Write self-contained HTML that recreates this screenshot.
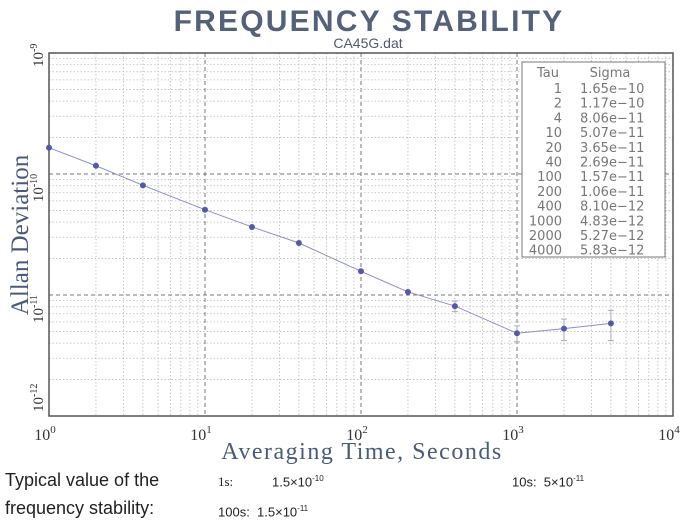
<!DOCTYPE html>
<html><head><meta charset="utf-8"><style>
body{margin:0;background:#fff;width:690px;height:529px;overflow:hidden;position:relative}
.t{position:absolute;font-family:"Liberation Sans",sans-serif;color:#222}
</style></head><body>
<svg id="s" width="690" height="529" style="position:absolute;left:0;top:0" xmlns="http://www.w3.org/2000/svg"></svg>
<div class="t" style="left:5px;top:470px;font-size:18px">Typical value of the</div>
<div class="t" style="left:5px;top:498px;font-size:18px">frequency stability:</div>
<div class="t" style="left:218px;top:474px;font-size:13px;font-family:'Liberation Serif',serif">1s:</div>
<div class="t" style="left:272px;top:474px;font-size:13px">1.5×10<sup style="font-size:8px">-10</sup></div>
<div class="t" style="left:512px;top:474px;font-size:13px">10s:&nbsp; 5×10<sup style="font-size:8px">-11</sup></div>
<div class="t" style="left:218px;top:504px;font-size:13px">100s:&nbsp; 1.5×10<sup style="font-size:8px">-11</sup></div>
<script>
var L=49,T=53,DX=156,DY=121,R=L+4*DX,B=T+3*DY,h='';
function X(t){return L+DX*Math.log10(t)}
function Y(s){return T+DY*(-9-Math.log10(s))}
for(var d=0;d<4;d++)for(var k=1;k<10;k++){var x=L+DX*(d+Math.log10(k));if(k==1&&d==0)continue;
h+='<line x1="'+x+'" y1="'+T+'" x2="'+x+'" y2="'+B+'" stroke="'+(k==1?'#777':'#bbb')+'" stroke-width="'+(k==1?1:0.8)+'" stroke-dasharray="'+(k==1?'4,3':'1.5,2')+'"/>';}
for(var d=0;d<3;d++)for(var k=1;k<10;k++){var y=T+DY*(d+1-Math.log10(k));if(k==1&&d==2)continue;
h+='<line x1="'+L+'" y1="'+y+'" x2="'+R+'" y2="'+y+'" stroke="'+(k==1?'#777':'#bbb')+'" stroke-width="'+(k==1?1:0.8)+'" stroke-dasharray="'+(k==1?'4,3':'1.5,2')+'"/>';}
h+='<rect x="'+L+'" y="'+T+'" width="'+(R-L)+'" height="'+(B-T)+'" fill="none" stroke="#555" stroke-width="1.5"/>';
var d=[[1,1.65e-10],[2,1.17e-10],[4,8.06e-11],[10,5.07e-11],[20,3.65e-11],[40,2.69e-11],[100,1.57e-11],[200,1.06e-11],[400,8.10e-12],[1000,4.83e-12],[2000,5.27e-12],[4000,5.83e-12]];
var eb={400:[0.1],1000:[0.15],2000:[0.2],4000:[0.28]};
var pts=d.map(function(p){return X(p[0])+','+Y(p[1])}).join(' ');
h+='<polyline points="'+pts+'" fill="none" stroke="#8a8fc8" stroke-width="1"/>';
d.forEach(function(p){var x=X(p[0]),y=Y(p[1]);
if(eb[p[0]]){var e=eb[p[0]][0];var y1=Y(p[1]*(1+e)),y2=Y(p[1]*(1-e));
h+='<line x1="'+x+'" y1="'+y1+'" x2="'+x+'" y2="'+y2+'" stroke="#aab" stroke-width="1"/><line x1="'+(x-3)+'" y1="'+y1+'" x2="'+(x+3)+'" y2="'+y1+'" stroke="#aab"/><line x1="'+(x-3)+'" y1="'+y2+'" x2="'+(x+3)+'" y2="'+y2+'" stroke="#aab"/>';}
h+='<circle cx="'+x+'" cy="'+y+'" r="3" fill="#5558a8"/>';});
h+='<rect x="522" y="62" width="143" height="195" fill="#fff" stroke="#777" stroke-width="1"/>';
h+='<text x="548" y="77" font-family="DejaVu Sans,sans-serif" font-size="13" fill="#777" text-anchor="middle">Tau</text><text x="610" y="77" font-family="DejaVu Sans,sans-serif" font-size="13" fill="#777" text-anchor="middle">Sigma</text>';
d.forEach(function(p,i){var y=93+i*14.7;var s=p[1].toExponential(2).replace('e-','e\u2212');
h+='<text x="562" y="'+y+'" font-family="DejaVu Sans,sans-serif" font-size="13" fill="#777" text-anchor="end">'+p[0]+'</text><text x="580" y="'+y+'" font-family="DejaVu Sans,sans-serif" font-size="13" fill="#777">'+s+'</text>';});
h+='<text x="369" y="31" text-anchor="middle" font-family="Liberation Sans,sans-serif" font-size="30" font-weight="bold" fill="#55607a" letter-spacing="2.2">FREQUENCY STABILITY</text>';
h+='<text x="368" y="48" text-anchor="middle" font-family="Liberation Sans,sans-serif" font-size="14" fill="#4f5a6e">CA45G.dat</text>';
h+='<text transform="translate(28,235) rotate(-90)" text-anchor="middle" font-family="Liberation Serif,serif" font-size="25" fill="#4a5a7a">Allan Deviation</text>';
[-9,-10,-11,-12].forEach(function(e,i){var y=T+DY*i;
h+='<text transform="translate(43,'+(i==3?y-4:y+14)+') rotate(-90)" text-anchor="'+(i==0?'start':(i==3?'start':'middle'))+'" font-family="Liberation Serif,serif" font-size="15" fill="#333">10<tspan dy="-6" font-size="10">'+e+'</tspan></text>';});
for(var i=0;i<5;i++){var x=L+DX*i;h+='<text x="'+(x-4)+'" y="440" text-anchor="middle" font-family="Liberation Serif,serif" font-size="16" fill="#333">10<tspan dy="-7" font-size="11">'+i+'</tspan></text>';}
h+='<text x="362" y="459" text-anchor="middle" font-family="Liberation Serif,serif" font-size="24" fill="#4a5a7a" letter-spacing="1.5">Averaging Time, Seconds</text>';
document.getElementById('s').innerHTML=h;
</script>
</body></html>
